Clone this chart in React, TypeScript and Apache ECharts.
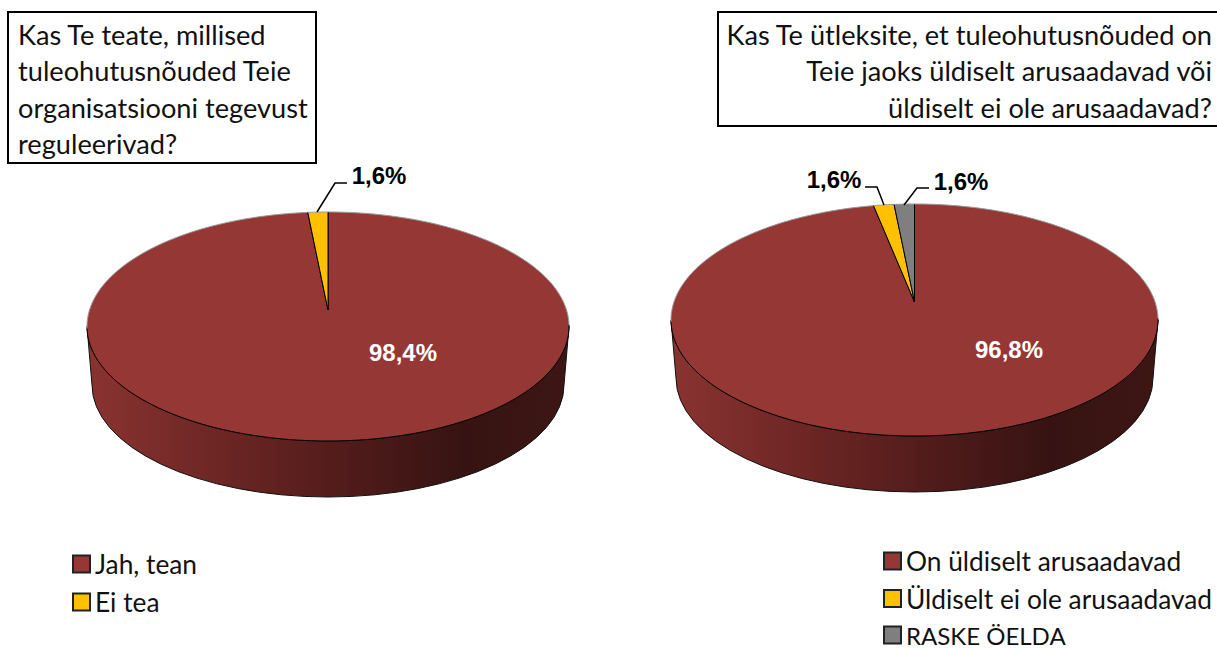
import React, { useEffect, useRef } from "react";
import * as echarts from "echarts";

const leftCategories = ["Jah, tean", "Ei tea"];
const leftValues = [98.4, 1.6];
const rightCategories = ["On üldiselt arusaadavad", "Üldiselt ei ole arusaadavad", "RASKE ÖELDA"];
const rightValues = [96.8, 1.6, 1.6];
const sliceColors = ["#953735", "#ffc000", "#7f7f7f"];
const leftTitle = ["Kas Te teate, millised", "tuleohutusnõuded Teie", "organisatsiooni tegevust", "reguleerivad?"];
const rightTitle = ["Kas Te ütleksite, et tuleohutusnõuded on", "Teie jaoks üldiselt arusaadavad või", "üldiselt ei ole arusaadavad?"];

const SANS = "Lato, 'Open Sans', sans-serif";
const LABEL = "'Liberation Sans', Arial, sans-serif";

type Geo = {
  cx: number; cy: number; rx: number; ry: number; ax: number; ay: number;
  bcy: number; brx: number; bry: number;
};
const leftGeo: Geo = { cx: 328, cy: 326.5, rx: 241, ry: 114.5, ax: 328, ay: 310, bcy: 385, brx: 236, bry: 112 };
const rightGeo: Geo = { cx: 914.5, cy: 320, rx: 243.5, ry: 116, ax: 914.5, ay: 302, bcy: 378, brx: 238.5, bry: 114 };

const rimPoint = (g: Geo, frac: number): number[] => {
  let s = frac * 2 * Math.PI;
  if (s > Math.PI) s -= 2 * Math.PI;
  const t = s * (0.83 + (0.17 * Math.abs(s)) / Math.PI);
  return [g.cx + g.rx * Math.sin(t), g.cy - g.ry * Math.cos(t)];
};

const wall = (g: Geo) =>
  `M${g.cx - g.rx} ${g.cy} L${g.cx - g.brx} ${g.bcy} A${g.brx} ${g.bry} 0 0 0 ${g.cx + g.brx} ${g.bcy} L${g.cx + g.rx} ${g.cy} A${g.rx} ${g.ry} 0 0 1 ${g.cx - g.rx} ${g.cy} Z`;

type Leader = { points: number[][]; lx: number; ly: number; color: string } | null;

// splits a run of rim points into stretches above and below the ellipse's centre line
const rimRuns = (rim: number[][], cy: number) => {
  const runs: { up: boolean; pts: number[][] }[] = [];
  rim.forEach((p) => {
    const up = p[1] <= cy;
    const last = runs[runs.length - 1];
    if (last && last.up === up) last.pts.push(p);
    else {
      const prev = last ? last.pts[last.pts.length - 1] : null;
      runs.push({ up, pts: prev ? [prev, p] : [p] });
    }
  });
  return runs;
};

const makeSeries = (names: string[], values: number[], g: Geo, leaders: Leader[], onFace?: { x: number; y: number }) => {
  const total = values.reduce((a, b) => a + b, 0);
  let acc = 0;
  return names.map((name, i) => {
    const start = acc / total;
    acc += values[i];
    const end = acc / total;
    const leader = leaders[i];
    return {
      type: "custom",
      name,
      coordinateSystem: "none",
      silent: true,
      itemStyle: { color: sliceColors[i] },
      data: [values[i]],
      renderItem: (_p: any, api: any) => {
        const v = api.value(0) as number;
        const text = v.toFixed(1).replace(".", ",") + "%";
        const steps = Math.max(2, Math.ceil((end - start) * 360));
        const rim: number[][] = [];
        for (let k = 0; k <= steps; k++) rim.push(rimPoint(g, start + ((end - start) * k) / steps));
        const children: any[] = [];
        if (i === 0) {
          children.push({
            type: "path",
            shape: { pathData: wall(g) },
            style: {
              fill: new echarts.graphic.LinearGradient(g.cx - g.rx, 0, g.cx + g.rx, 0, [
                { offset: 0, color: "#8a3331" },
                { offset: 0.3, color: "#6a2523" },
                { offset: 0.55, color: "#4f1b1a" },
                { offset: 0.78, color: "#361312" },
                { offset: 1, color: "#3d1614" },
              ], true),
              stroke: "#111",
              lineWidth: 1,
            },
          });
        }
        children.push({
          type: "polygon",
          shape: { points: [[g.ax, g.ay], ...rim] },
          style: { fill: sliceColors[i] },
        });
        children.push({
          type: "polyline",
          shape: { points: [rim[0], [g.ax, g.ay], rim[rim.length - 1]] },
          style: { fill: "none", stroke: "#000", lineWidth: 1 },
        });
        rimRuns(rim, g.cy).forEach((run) => {
          if (run.pts.length < 2) return;
          children.push({
            type: "polyline",
            shape: { points: run.pts },
            style: { fill: "none", stroke: run.up ? "#999" : "#000", lineWidth: 1 },
          });
        });
        if (leader) {
          children.push({
            type: "polyline",
            shape: { points: leader.points },
            style: { fill: "none", stroke: "#000", lineWidth: 1.5 },
          });
          children.push({
            type: "text",
            style: {
              text,
              x: leader.lx,
              y: leader.ly,
              align: "center",
              verticalAlign: "middle",
              font: `bold 24px ${LABEL}`,
              fill: leader.color,
            },
          });
        }
        if (onFace && i === 0) {
          children.push({
            type: "text",
            style: {
              text,
              x: onFace.x,
              y: onFace.y,
              align: "center",
              verticalAlign: "middle",
              font: `bold 24px ${LABEL}`,
              fill: "#ffffff",
            },
          });
        }
        return { type: "group", children };
      },
    };
  });
};

const titleBox = (x: number, y: number, w: number, h: number, lines: string[], tx: number, align: string) => [
  { type: "rect", shape: { x, y, width: w, height: h }, style: { fill: "#fff", stroke: "#000", lineWidth: 2 } },
  ...lines.map((t, i) => ({
    type: "text",
    x: tx,
    y: 34.5 + i * 36.3,
    style: { text: t, font: `27.2px ${SANS}`, fill: "#111", align, verticalAlign: "middle" },
  })),
];

const legendBase = {
  orient: "vertical",
  padding: 0,
  itemWidth: 17,
  itemHeight: 17,
  selectedMode: false,
  icon: "rect",
  itemStyle: { borderColor: "#222", borderWidth: 2 },
  textStyle: { fontFamily: SANS, fontSize: 26.3, color: "#111" },
};

export default function App() {
  const ref = useRef<HTMLDivElement>(null);
  useEffect(() => {
    const chart = echarts.init(ref.current!, null, { renderer: "svg" });
    chart.setOption({
      animation: false,
      backgroundColor: "#fff",
      legend: [
        { ...legendBase, left: 72, top: 551, height: 90, itemGap: 12, data: leftCategories },
        {
          ...legendBase,
          left: 883,
          top: 548,
          height: 140,
          itemGap: 11.5,
          data: rightCategories.map((name) =>
            name === name.toUpperCase() ? { name, textStyle: { fontSize: 24 } } : { name }
          ),
        },
      ],
      series: [
        ...makeSeries(leftCategories, leftValues, leftGeo, [
          null,
          { points: [[317, 212], [335, 183], [347, 183]], lx: 379, ly: 175, color: "#000" },
        ], { x: 403, y: 352 }),
        ...makeSeries(rightCategories, rightValues, rightGeo, [
          null,
          { points: [[884, 205], [877, 187], [865, 187]], lx: 834, ly: 179, color: "#000" },
          { points: [[904, 205], [917, 188], [929, 188]], lx: 961, ly: 181, color: "#000" },
        ], { x: 1009, y: 349 }),
      ],
      graphic: [
        ...titleBox(8, 12, 308, 151, leftTitle, 18, "left"),
        ...titleBox(718, 12, 510, 114, rightTitle, 1212, "right"),
      ],
    });
    return () => chart.dispose();
  }, []);
  return <div ref={ref} style={{ position: "absolute", left: 0, top: 0, width: 1217, height: 648 }} />;
}
